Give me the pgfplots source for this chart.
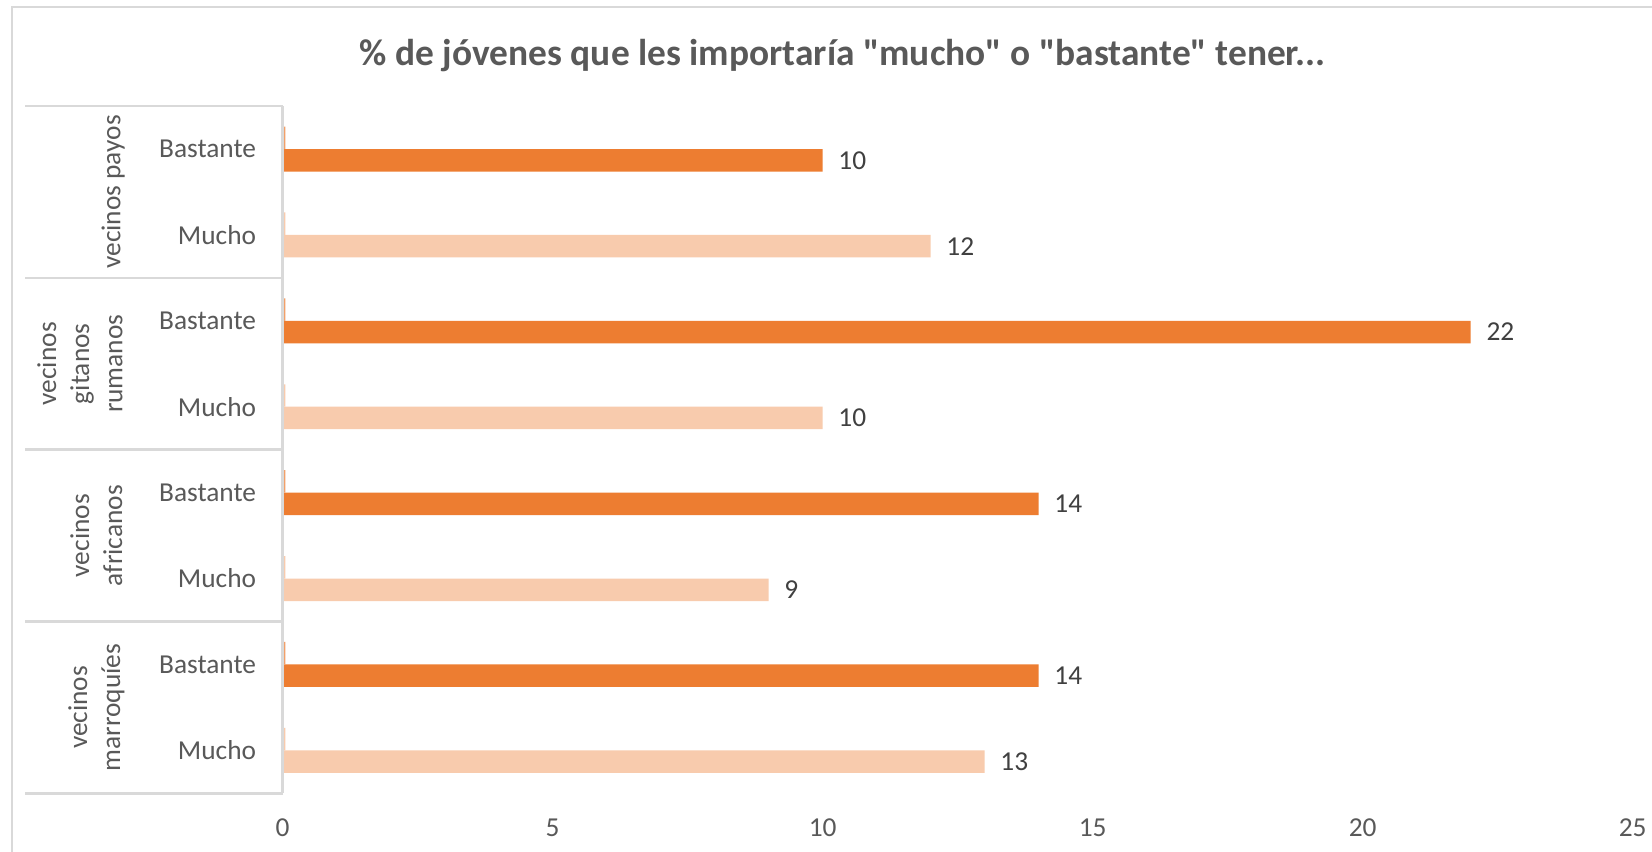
\documentclass[border=0pt]{standalone}
\usepackage{pgfplots}
\pgfplotsset{compat=1.18}
\usepackage{fontspec}
\setmainfont{Carlito}
\newfontfamily\titlefont{Carlito}[Ligatures=TeXOff]
\definecolor{barA}{HTML}{ED7D31}
\definecolor{barB}{HTML}{F8CBAD}
\definecolor{txt}{HTML}{595959}
\definecolor{lbl}{HTML}{404040}
\definecolor{rule}{HTML}{D9D9D9}

\begin{document}
\begin{tikzpicture}
\useasboundingbox[fill=white] (-93.0pt,-19.3pt) rectangle (450.5pt,261.0pt);
% chart frame (only left and top edges fall inside the picture)
\draw[rule, line width=0.8pt] (-89.1pt,-40pt) -- (-89.1pt,258.7pt) -- (480pt,258.7pt);
\node[font=\titlefont\bfseries\fontsize{12.3}{15}\selectfont, text=txt] at (184.3pt,242.6pt)
  {\% de jóvenes que les importaría "mucho" o "bastante" tener...};
\begin{axis}[
  scale only axis, width=444.15pt, height=226.1pt,
  xmin=0, xmax=25, ymin=-0.5, ymax=7.5, y dir=reverse,
  xbar, bar width=7.4pt,
  xtick={0,5,...,25}, ytick={0,...,7},
  yticklabels={Bastante,Mucho,Bastante,Mucho,Bastante,Mucho,Bastante,Mucho},
  axis line style={draw=none}, major tick length=0pt,
  tick label style={font=\fontsize{9}{10.8}\selectfont, text=txt},
  xticklabel style={inner sep=0pt, anchor=north, yshift=-8.15pt},
  yticklabel style={inner sep=0pt, anchor=east, xshift=-8.55pt},
  /pgf/number format/assume math mode=true,
  clip=false,
  nodes near coords style={font=\fontsize{9}{10.8}\selectfont, text=lbl,
    anchor=west, inner sep=0pt, xshift=5pt},
]
% main bars
\addplot[fill=barA, draw=none, bar shift=-3.7pt, nodes near coords]
  coordinates {(10,0) (22,2) (14,4) (14,6)};
\addplot[fill=barB, draw=none, bar shift=-3.7pt, nodes near coords]
  coordinates {(12,1) (10,3) (9,5) (13,7)};
% near-zero slivers
\addplot[fill=barA!55!barB, draw=none, bar shift=3.7pt]
  coordinates {(0.05,0) (0.05,2) (0.05,4) (0.05,6)};
\addplot[fill=barB, draw=none, bar shift=3.7pt]
  coordinates {(0.05,1) (0.05,3) (0.05,5) (0.05,7)};

% category table lines
\draw[rule, line width=0.8pt] (axis cs:0,-0.5) -- (axis cs:0,7.5);
\draw[rule, line width=0.8pt] (axis cs:0,-0.5) -- ([xshift=-84.8pt]axis cs:0,-0.5);
\draw[rule, line width=0.8pt] (axis cs:0,1.5) -- ([xshift=-84.8pt]axis cs:0,1.5);
\draw[rule, line width=0.8pt] (axis cs:0,3.5) -- ([xshift=-84.8pt]axis cs:0,3.5);
\draw[rule, line width=0.8pt] (axis cs:0,5.5) -- ([xshift=-84.8pt]axis cs:0,5.5);
\draw[rule, line width=0.8pt] (axis cs:0,7.5) -- ([xshift=-84.8pt]axis cs:0,7.5);

\tikzset{grp/.style={rotate=90, align=center, text=txt,
  font=\fontsize{9}{10.86}\selectfont}}
\node[grp] at ([xshift=-55.8pt]axis cs:0,0.5) {vecinos payos};
\node[grp] at ([xshift=-66.7pt]axis cs:0,2.5) {vecinos\\gitanos\\rumanos};
\node[grp] at ([xshift=-61.3pt]axis cs:0,4.5) {vecinos\\africanos};
\node[grp] at ([xshift=-61.3pt]axis cs:0,6.5) {vecinos\\marroquíes};
\end{axis}
\end{tikzpicture}
\end{document}
